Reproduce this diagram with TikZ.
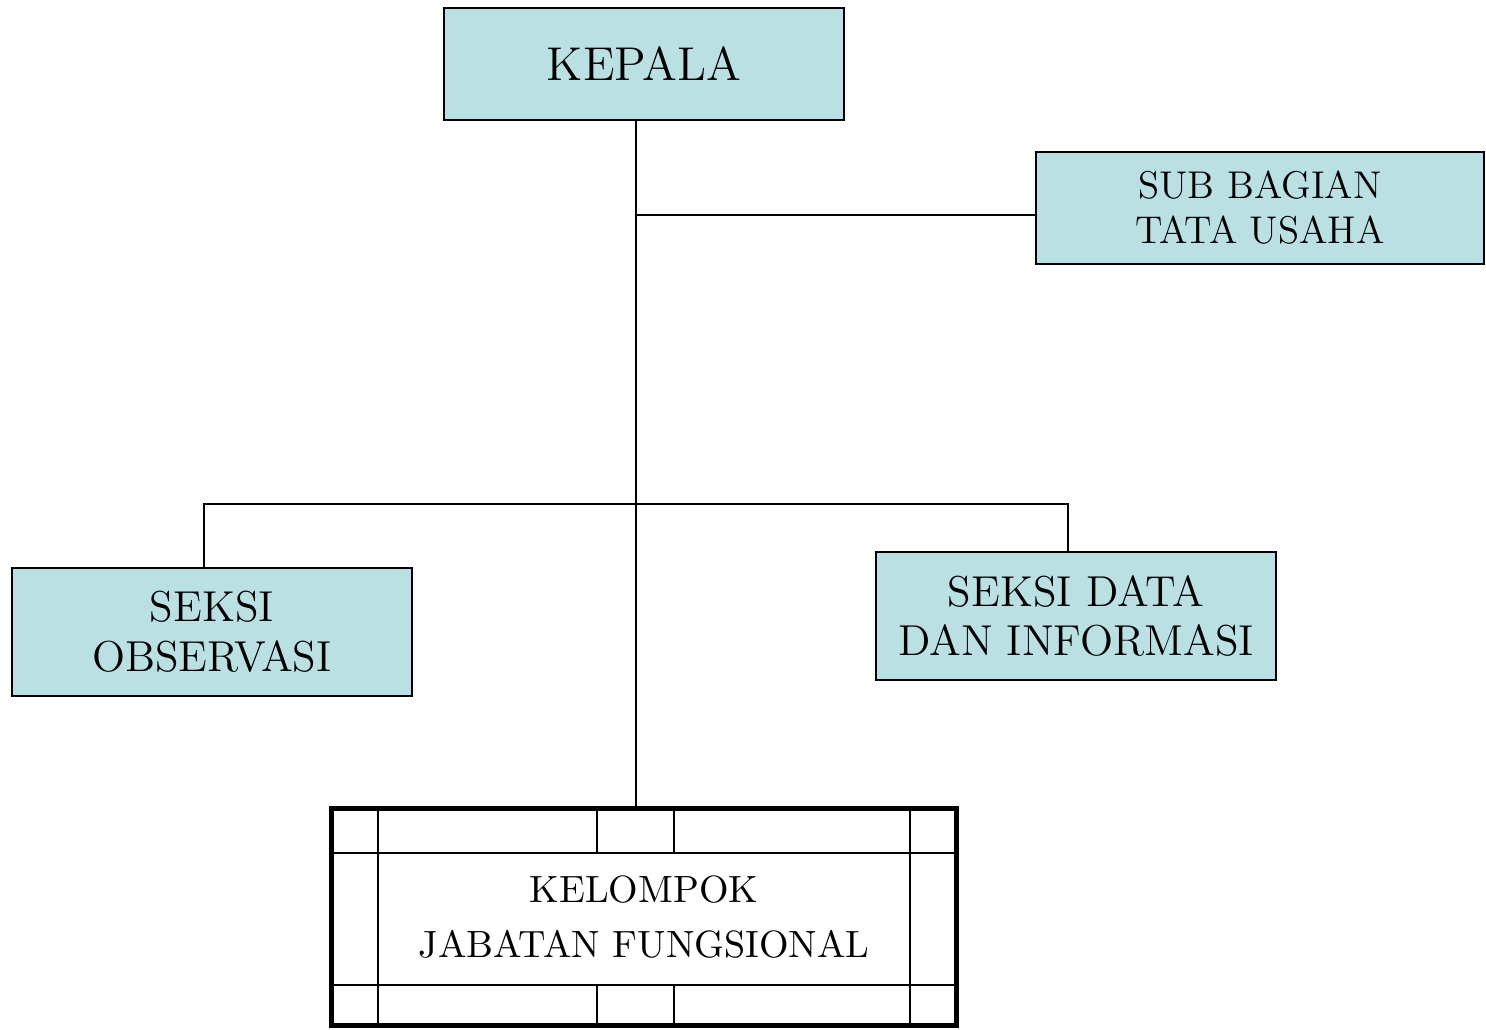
\documentclass[tikz,border=0pt]{standalone}
\usepackage{tikz}
\usetikzlibrary{positioning}
\definecolor{kotakbiru}{RGB}{187,224,227}

\begin{document}
\begin{tikzpicture}[
  x=0.01cm, y=-0.01cm,
  unit/.style={draw, line width=0.7pt, fill=kotakbiru, align=center, inner sep=0pt},
  kepalabox/.style={unit, minimum width=4cm, minimum height=1.12cm, font=\fontsize{13.5}{16}\selectfont},
  subbox/.style={unit, minimum width=4.48cm, minimum height=1.12cm, font=\fontsize{11}{12.8}\selectfont},
  seksibox/.style={unit, minimum width=4cm, minimum height=1.28cm, font=\fontsize{12.3}{14.2}\selectfont},
  fungsibox/.style={draw, line width=1.5pt, align=center, inner sep=0pt, minimum width=6.24cm, minimum height=2.17cm, font=\fontsize{10.8}{15.6}\selectfont},
  link/.style={line width=0.6pt},
  grid/.style={line width=0.6pt}
]
\useasboundingbox (0,0) rectangle (1486,1029);

% Boxes
\node[kepalabox] (kepala) at (644, 64) {KEPALA};
\node[subbox] (sub) at (1260, 208) {SUB BAGIAN\\TATA USAHA};
\node[seksibox] (obs) at (212, 632) {SEKSI\\OBSERVASI};
\node[seksibox] (data) at (1076, 616) {SEKSI DATA\\DAN INFORMASI};
\node[fungsibox] (kjf) at (644, 917) {KELOMPOK\\JABATAN FUNGSIONAL};

% Grid inside the functional group box
\draw[grid] (378, 808) -- (378, 1026);
\draw[grid] (910, 808) -- (910, 1026);
\draw[grid] (332, 853) -- (956, 853);
\draw[grid] (332, 985) -- (956, 985);
\draw[grid] (597, 808) -- (597, 853);
\draw[grid] (674, 808) -- (674, 853);
\draw[grid] (597, 985) -- (597, 1026);
\draw[grid] (674, 985) -- (674, 1026);

% Connectors
\coordinate (cabang) at (636, 215);
\coordinate (kiri) at (204, 504);
\coordinate (kanan) at (1068, 504);

\draw[link] (kepala.south -| cabang) -- (kjf.north -| cabang);
\draw[link] (cabang) -- (cabang -| sub.west);
\draw[link] (obs.north -| kiri) -- (kiri) -- (kanan) -- (data.north -| kanan);

\end{tikzpicture}
\end{document}
